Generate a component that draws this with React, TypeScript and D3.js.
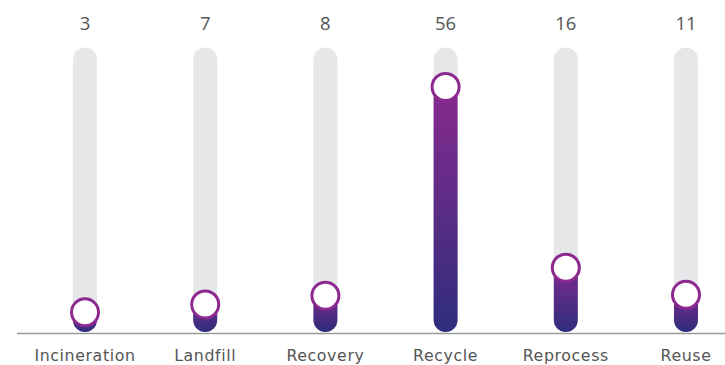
import React from "react";
import * as d3 from "d3";

const categories = ["Incineration", "Landfill", "Recovery", "Recycle", "Reprocess", "Reuse"];
const values = [3, 7, 8, 56, 16, 11];
// marker level of each gauge (same units as values)
const fillLevels = [4.5, 6.3, 8.3, 56, 14.7, 8.5];
const trackMax = 65;

const W = 725;
const H = 365;

export default function App() {
  const x = d3.scalePoint<string>().domain(categories).range([85, 686]);
  const y = d3.scaleLinear().domain([0, trackMax]).range([332, 47.5]);
  const barW = 24;
  const r = barW / 2;
  const font = "'Open Sans', 'DejaVu Sans', sans-serif";
  const labelFont = "'DejaVu Sans', 'Open Sans', sans-serif";

  return (
    <svg
      width={W}
      height={H}
      style={{ position: "absolute", left: 0, top: 0, background: "#fff" }}
    >
      <defs>
        <linearGradient id="barGrad" x1="0" y1="0" x2="0" y2="1">
          <stop offset="0%" stopColor="#8c2a8f" />
          <stop offset="100%" stopColor="#2e2d7c" />
        </linearGradient>
      </defs>
      {categories.map((c, i) => {
        const cx = x(c) as number;
        const top = y(trackMax);
        const base = y(0);
        const cy = y(fillLevels[i]);
        return (
          <g key={c}>
            <rect
              x={cx - r}
              y={top}
              width={barW}
              height={base - top}
              rx={r}
              fill="#e6e7e9"
            />
            <rect
              x={cx - r}
              y={cy - r}
              width={barW}
              height={base - (cy - r)}
              rx={r}
              fill="url(#barGrad)"
            />
            <circle cx={cx} cy={cy} r={13.5} fill="#fff" stroke="#8d2a90" strokeWidth={3} />
            <text
              x={cx}
              y={30}
              textAnchor="middle"
              fontFamily={font}
              fontSize={18.5}
              fill="#555"
            >
              {values[i]}
            </text>
            <text
              x={cx}
              y={361}
              textAnchor="middle"
              fontFamily={labelFont}
              fontSize={15.8}
              letterSpacing={0.6}
              fill="#555"
            >
              {c}
            </text>
          </g>
        );
      })}
      <line x1={17} x2={W} y1={333.5} y2={333.5} stroke="#9a9a9a" strokeWidth={1.5} />
    </svg>
  );
}
